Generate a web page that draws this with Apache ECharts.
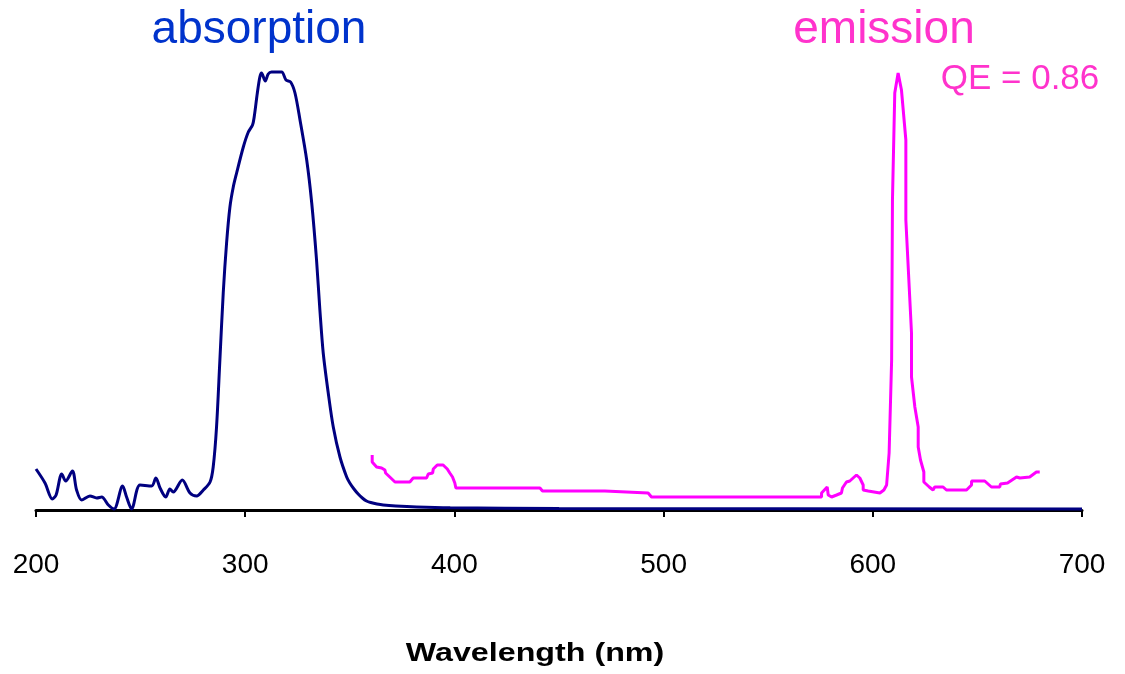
<!DOCTYPE html>
<html>
<head>
<meta charset="utf-8">
<script src="https://cdn.jsdelivr.net/npm/echarts@6/dist/echarts.min.js"></script>
<style>html,body{margin:0;padding:0;background:#fff}#c{width:1125px;height:674px}</style>
</head>
<body>
<div id="c"></div>
<script>
// Tick labels / axis range
const xTicks = [200, 300, 400, 500, 600, 700];

// Absorption spectrum (wavelength nm, intensity a.u.)
const absWl = [200,204.3,207.8,209.6,212.3,214.2,217.4,219.4,221.8,225.8,229,231.4,234.6,237.3,241.4,243.3,245.7,249.7,255.3,257.3,259.3,262,264,265.6,269.9,273.6,276.8,280,283.2,284.7,286.3,287.9,289.5,291.1,292.7,294.3,295.9,299.1,301.5,303.5,304.3,305.8,307,307.8,309.6,311,312.6,317.4,319.5,321.7,323.8,326.2,329.4,331.8,334.1,335.7,337.3,339.7,342.1,345.3,348.5,350,352,354,356,358,360,363,366,372,382,398,450,700];
const absVal = [41,27,11,15,36,29,39,20,10,14,12,13,5,1,24,13,1,25,24,32,22,13,21,18,30,17,14,20,28,43,83,150,217,267,303,323,337,363,378,385,393,417,433,437,429,436,438,438,430,428,417,390,350,307,250,200,157,117,83,53,33,27,21,16,12,9,7.5,6,5,4,3,2.2,1.5,1];

// Emission spectrum (wavelength nm, intensity a.u.)
const emWl = [360.7,360.7,362.8,365.2,366.8,367.1,371.6,378.7,380.3,386.7,387.5,389.6,389.9,391.8,394.6,396.6,397.8,399.1,400.2,400.7,440.9,442.1,471.9,472.7,492.6,494.2,575.5,575.5,578.2,578.7,580.3,582.7,583.5,585,585.5,587.4,589,592.2,593.8,595.4,595.4,597.8,598.6,603.4,605.3,606.6,607.8,609,609.4,610.5,612.1,613.7,615.8,615.8,618.5,618.5,620.1,621.7,621.7,622.8,624.4,624.4,627,628.8,629.6,633.6,635.2,644.8,647.2,647.2,653.5,656.7,660.7,661,664.4,664.8,668.7,670.3,671,675,678.2,679.8];
const emVal = [55,48,43,42,40,37,28,28,32,32,36,37,41,45,45,41,37,33,27,22,22,19,19,17,17,13,13,17,23,15,13,15,17,17,22,28,29,35,32,25,20,19,17,17,20,25,57,150,310,417,437,420,370,290,177,133,103,83,63,50,38,28,23,20,23,23,20,20,25,29,29,23,23,26,27,29,33,32,33,33,38,38];

// Annotation texts
const labelAbs = 'absorption';
const labelEm = 'emission';
const labelQE = 'QE = 0.86';
const axisTitle = 'Wavelength (nm)';

const FONT = '"Liberation Sans", Arial, sans-serif';
const chart = echarts.init(document.getElementById('c'), null, {renderer: 'canvas'});

chart.setOption({
  animation: false,
  backgroundColor: '#ffffff',
  grid: {left: 36, right: 43, top: 70, bottom: 164},
  xAxis: {
    type: 'value',
    min: xTicks[0],
    max: xTicks[xTicks.length - 1],
    interval: 100,
    axisLine: {show: true, lineStyle: {color: '#000', width: 3}},
    axisTick: {show: true, length: 7, lineStyle: {color: '#000', width: 2}},
    axisLabel: {color: '#000', fontSize: 28, fontFamily: FONT, margin: 41},
    splitLine: {show: false}
  },
  yAxis: {type: 'value', min: 0, max: 440, show: false, splitLine: {show: false}},
  series: [
    {
      type: 'line',
      name: labelAbs,
      data: absWl.map((w, i) => [w, absVal[i]]),
      smooth: 0.3,
      showSymbol: false,
      lineStyle: {color: '#000080', width: 3},
      z: 3
    },
    {
      type: 'line',
      name: labelEm,
      data: emWl.map((w, i) => [w, emVal[i]]),
      smooth: false,
      showSymbol: false,
      lineStyle: {color: '#ff00ff', width: 3},
      z: 2
    }
  ],
  graphic: [
    {type: 'text', x: 259, y: 30, style: {text: labelAbs, fill: '#0033cc', font: '46px ' + FONT, align: 'center', verticalAlign: 'middle'}},
    {type: 'text', x: 884, y: 30, style: {text: labelEm, fill: '#ff33cc', font: '46px ' + FONT, align: 'center', verticalAlign: 'middle'}},
    {type: 'text', x: 1020, y: 79, style: {text: labelQE, fill: '#ff33cc', font: '35px ' + FONT, align: 'center', verticalAlign: 'middle'}},
    {type: 'text', x: 535, y: 654, scaleX: 1.24, style: {text: axisTitle, fill: '#000', font: 'bold 26px ' + FONT, align: 'center', verticalAlign: 'middle'}}
  ]
});
</script>
</body>
</html>
